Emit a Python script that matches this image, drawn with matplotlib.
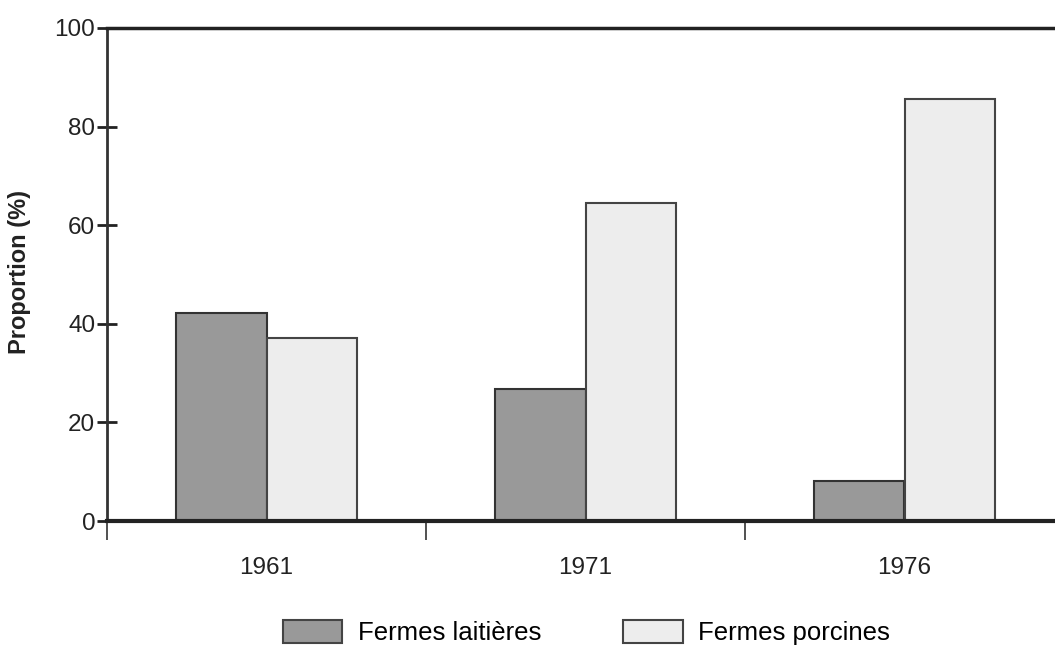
import matplotlib
matplotlib.use("Agg")
import matplotlib.pyplot as plt
from matplotlib.patches import Patch
import numpy as np

plt.rcParams['font.family'] = ['Liberation Sans', 'DejaVu Sans']

years = ["1961", "1971", "1976"]
laitieres = [42.2, 26.8, 8.1]
porcines = [37.1, 64.5, 85.6]
series_names = ["Fermes laitières", "Fermes porcines"]
colors = ["#999999", "#ededed"]

fig = plt.figure(figsize=(10.55, 6.45), dpi=100)
ax = fig.add_axes([107/1055, 1 - 521/645, 957/1055, 493/645])

x = np.arange(len(years))
w = 0.285
ax.bar(x - w/2, laitieres, w, color=colors[0], edgecolor="#333333", linewidth=1.5, zorder=2)
ax.bar(x + w/2, porcines, w, color=colors[1], edgecolor="#444444", linewidth=1.5, zorder=2)

ax.set_xlim(-0.5, len(years) - 0.5)
ax.set_ylim(0, 100)

# y ticks
ax.set_yticks([0, 20, 40, 60, 80, 100])
ax.tick_params(axis='y', direction='inout', length=15, width=2, labelsize=17.5, pad=1, colors='#222222')
# x ticks: boundaries with marks, centers with labels
ax.set_xticks([-0.5, 0.5, 1.5], labels=["", "", ""])
ax.set_xticks(x, labels=years, minor=True)
ax.tick_params(axis='x', which='major', direction='out', length=14, width=1.2, colors='#333333')
ax.tick_params(axis='x', which='minor', length=0, pad=26, labelsize=17.5, labelcolor='#222222')

ax.spines['right'].set_visible(False)
ax.spines['left'].set_linewidth(2)
ax.spines['left'].set_color('#333333')
ax.spines['top'].set_linewidth(2.5)
ax.spines['top'].set_color('#222222')
ax.spines['bottom'].set_linewidth(3)
ax.spines['bottom'].set_color('#222222')
ax.spines['bottom'].set_zorder(3)

fig.text(20/1055, 1 - 272/645, "Proportion (%)", rotation=90, fontsize=17,
         fontweight='bold', ha='center', va='center', color='#222222')

handles = [Patch(facecolor=colors[0], edgecolor='#444444', linewidth=1.5),
           Patch(facecolor=colors[1], edgecolor='#444444', linewidth=1.5)]
fig.legend(handles, series_names, loc='lower center', bbox_to_anchor=(0.556, -0.004),
           ncol=2, frameon=False, fontsize=18.5, handlelength=2.3, handleheight=1.0,
           handletextpad=0.6, columnspacing=3.2, borderaxespad=0.0, borderpad=0.1)

fig.savefig("out.png", dpi=100)
